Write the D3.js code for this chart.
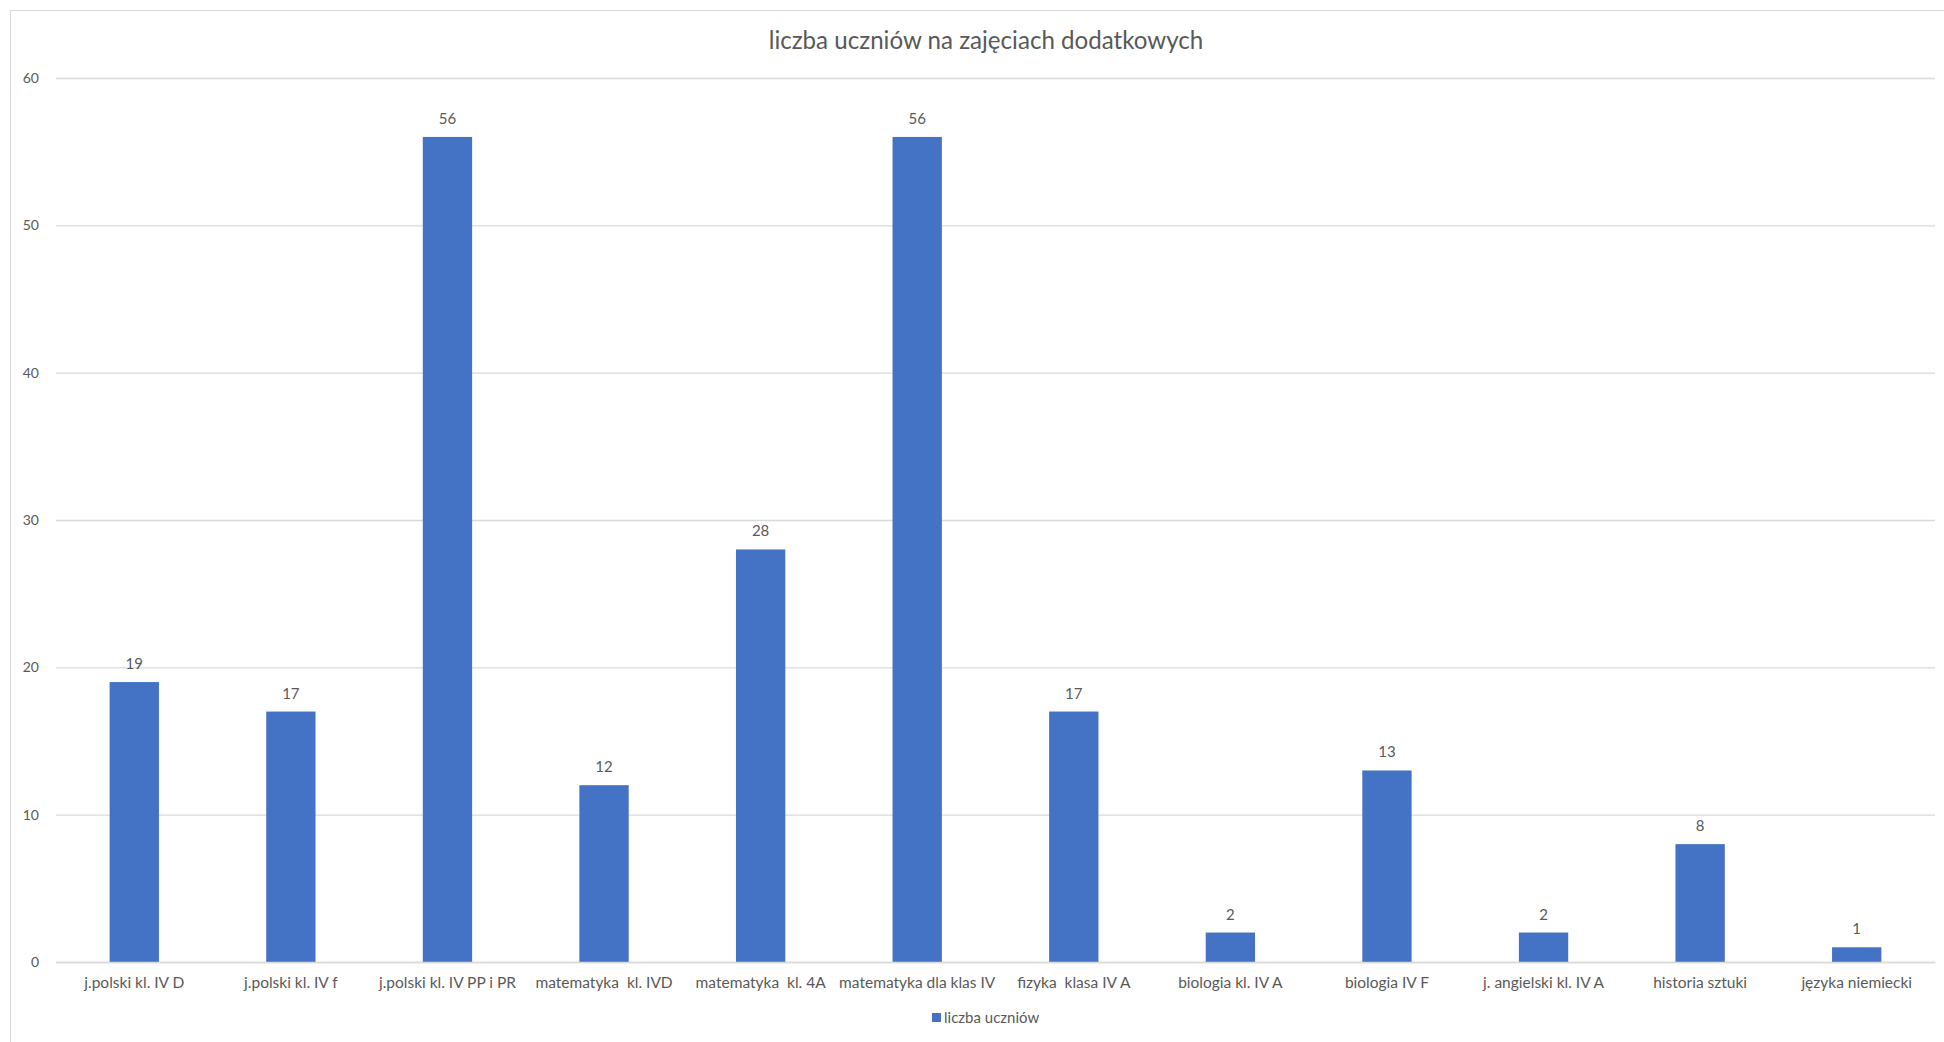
<!DOCTYPE html>
<html><head><meta charset="utf-8">
<script src="https://cdn.jsdelivr.net/npm/d3@7"></script>
<style>
html,body{margin:0;padding:0;background:#fff;overflow:hidden;}
text{font-family:Lato,"Open Sans",sans-serif;fill:#595959;}
</style></head>
<body>
<svg id="chart" width="1944" height="1042"></svg>
<script>
const categories = ["j.polski kl. IV D","j.polski kl. IV f","j.polski kl. IV PP i PR","matematyka  kl. IVD","matematyka  kl. 4A","matematyka dla klas IV","fizyka  klasa IV A","biologia kl. IV A","biologia IV F","j. angielski kl. IV A","historia sztuki","języka niemiecki"];
const values = [19,17,56,12,28,56,17,2,13,2,8,1];
const yTicks = [0,10,20,30,40,50,60];
const seriesName = "liczba uczniów";
const title = "liczba uczniów na zajęciach dodatkowych";

const svg = d3.select("#chart");
svg.append("rect").attr("x",10.5).attr("y",10.5).attr("width",1944).attr("height",1042)
  .attr("fill","#fff").attr("stroke","#d9d9d9").attr("stroke-width",1);

const m = {left:56, right:1935, top:78, bottom:962};
const x = d3.scaleBand().domain(categories).range([m.left,m.right]).paddingInner(0.685).paddingOuter(0.3425);
const y = d3.scaleLinear().domain([0,60]).range([m.bottom,m.top]);

// gridlines
const yAxis = d3.axisLeft(y).tickValues(yTicks).tickSize(-(m.right-m.left)).tickPadding(17);
const gy = svg.append("g").attr("transform",`translate(${m.left},0)`).call(yAxis);
gy.select(".domain").remove();
gy.selectAll(".tick line").attr("stroke","#d9d9d9").attr("stroke-width",1.3);
gy.selectAll(".tick text").attr("font-size",14).style("fill","#595959").attr("font-family","Lato");

// bars
svg.append("g").selectAll("rect").data(values).join("rect")
  .attr("x",(d,i)=>x(categories[i])).attr("width",x.bandwidth())
  .attr("y",d=>y(d)).attr("height",d=>y(0)-y(d)).attr("fill","#4472c4");

// x axis
const xAxis = d3.axisBottom(x).tickSize(0).tickPadding(15);
const gx = svg.append("g").attr("transform",`translate(0,${m.bottom})`).call(xAxis);
gx.select(".domain").attr("stroke","#d9d9d9").attr("stroke-width",1.3);
gx.selectAll(".tick text").attr("font-size",15.5).style("fill","#595959").style("white-space","pre").attr("font-family","Lato");

// data labels
svg.append("g").selectAll("text").data(values).join("text")
  .attr("x",(d,i)=>x(categories[i])+x.bandwidth()/2).attr("y",d=>y(d)-13)
  .attr("text-anchor","middle").attr("font-size",15).text(d=>d);

// title
const t = svg.append("text").attr("x",986).attr("y",49).attr("text-anchor","middle")
  .attr("font-size",22).text(title);
const w = t.node().getComputedTextLength();
t.attr("font-size",22*435/w);

// legend
svg.append("rect").attr("x",932).attr("y",1013).attr("width",9).attr("height",9).attr("fill","#4472c4");
svg.append("text").attr("x",944).attr("y",1023).attr("font-size",15).text(seriesName);
</script>
</body></html>
